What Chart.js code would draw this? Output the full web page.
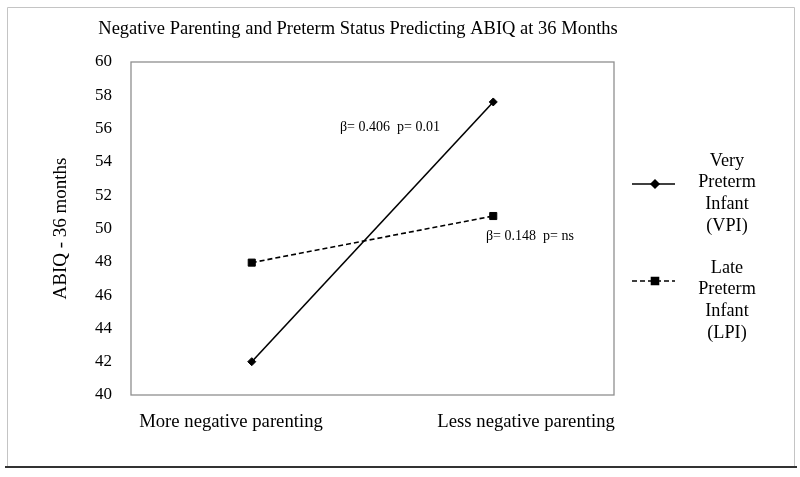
<!DOCTYPE html>
<html><head><meta charset="utf-8">
<script src="https://cdn.jsdelivr.net/npm/chart.js@4"></script>
<style>html,body{margin:0;padding:0;background:#fff}#wrap{width:800px;height:477px}</style>
</head><body><div id="wrap"><canvas id="c" width="800" height="477"></canvas></div>
<script>
const categories = ["More negative parenting", "Less negative parenting"];
const vpiValues = [42.0, 57.6];
const lpiValues = [47.95, 50.75];
const seriesNames = [["Very","Preterm","Infant","(VPI)"], ["Late","Preterm","Infant","(LPI)"]];
const yTicks = {min: 40, max: 60, step: 2};
const annotations = ["β= 0.406  p= 0.01", "β= 0.148  p= ns"];
const chartTitle = "Negative Parenting and Preterm Status Predicting ABIQ at 36 Months";
const yTitle = "ABIQ - 36 months";

const SERIF = "'Liberation Serif','Times New Roman',serif";

const decor = {
  id: 'decor',
  beforeDraw(chart) {
    const ctx = chart.ctx;
    ctx.save();
    ctx.fillStyle = '#fff';
    ctx.fillRect(0, 0, chart.width, chart.height);
    ctx.strokeStyle = '#c4c4c4';
    ctx.lineWidth = 1;
    ctx.beginPath();
    ctx.moveTo(7.5, 466); ctx.lineTo(7.5, 7.5); ctx.lineTo(794.5, 7.5); ctx.lineTo(794.5, 466);
    ctx.stroke();
    ctx.strokeStyle = '#333';
    ctx.lineWidth = 2;
    ctx.beginPath(); ctx.moveTo(5, 467); ctx.lineTo(797, 467); ctx.stroke();
    const a = chart.chartArea;
    ctx.strokeStyle = '#8f8f8f';
    ctx.lineWidth = 1.3;
    ctx.strokeRect(a.left, a.top, a.right - a.left, a.bottom - a.top);
    ctx.restore();
  },
  afterDraw(chart) {
    const ctx = chart.ctx, a = chart.chartArea;
    const w = a.right - a.left;
    const ys = chart.scales.y;
    ctx.save();
    ctx.fillStyle = '#000';
    ctx.textBaseline = 'middle';
    // title
    ctx.font = '18.5px ' + SERIF;
    ctx.textAlign = 'center';
    ctx.fillText(chartTitle, 358, 29);
    // x category labels
    ctx.font = '18.7px ' + SERIF;
    ctx.fillText(categories[0], a.left + w * 0.207, 422);
    ctx.fillText(categories[1], a.left + w * 0.818, 422);
    // annotations
    ctx.font = '14px ' + SERIF;
    ctx.textAlign = 'left';
    ctx.fillText(annotations[0], 340, ys.getPixelForValue(56.1));
    ctx.fillText(annotations[1], 486, ys.getPixelForValue(49.5));
    // legend
    const items = [
      {ds: chart.data.datasets[0], lineY: 184, textY: 161},
      {ds: chart.data.datasets[1], lineY: 281, textY: 268}
    ];
    items.forEach((it, i) => {
      ctx.strokeStyle = '#000';
      ctx.lineWidth = 1.5;
      ctx.setLineDash(it.ds.borderDash || []);
      ctx.beginPath(); ctx.moveTo(632, it.lineY); ctx.lineTo(675, it.lineY); ctx.stroke();
      ctx.setLineDash([]);
      Chart.helpers.drawPoint(ctx, {pointStyle: it.ds.pointStyle, radius: it.ds.pointRadius, borderWidth: 1}, 655, it.lineY);
      ctx.fillStyle = '#000';
      ctx.font = '18.2px ' + SERIF;
      ctx.textAlign = 'center';
      seriesNames[i].forEach((t, k) => ctx.fillText(t, 727, it.textY + k * 21.7));
    });
    ctx.restore();
  }
};

new Chart(document.getElementById('c'), {
  type: 'line',
  data: {
    labels: categories,
    datasets: [
      {label: 'VPI', data: vpiValues, borderColor: '#000', backgroundColor: '#000', borderWidth: 1.6,
       pointStyle: 'rectRot', pointRadius: 4, pointBorderWidth: 1, tension: 0},
      {label: 'LPI', data: lpiValues, borderColor: '#000', backgroundColor: '#000', borderWidth: 1.6,
       borderDash: [5, 3], pointStyle: 'rect', pointRadius: 5, pointBorderWidth: 1, tension: 0}
    ]
  },
  options: {
    responsive: false,
    animation: false,
    events: [],
    layout: {padding: {left: 50, right: 186, top: 62, bottom: 0}},
    plugins: {legend: {display: false}, title: {display: false}, tooltip: {enabled: false}},
    scales: {
      x: {
        type: 'category', offset: true,
        grid: {display: false, drawTicks: false},
        border: {display: false},
        ticks: {display: false},
        afterFit(s) { s.height = 477 - 395; }
      },
      y: {
        min: yTicks.min, max: yTicks.max,
        grid: {display: false, drawTicks: false},
        border: {display: false},
        ticks: {stepSize: yTicks.step, color: '#000', padding: 19, font: {family: SERIF, size: 17}},
        title: {display: true, text: yTitle, color: '#000', font: {family: SERIF, size: 19}, padding: {top: 0, bottom: 0}},
        afterFit(s) { s.width = 131 - 50; }
      }
    }
  },
  plugins: [decor]
});
</script></body></html>
